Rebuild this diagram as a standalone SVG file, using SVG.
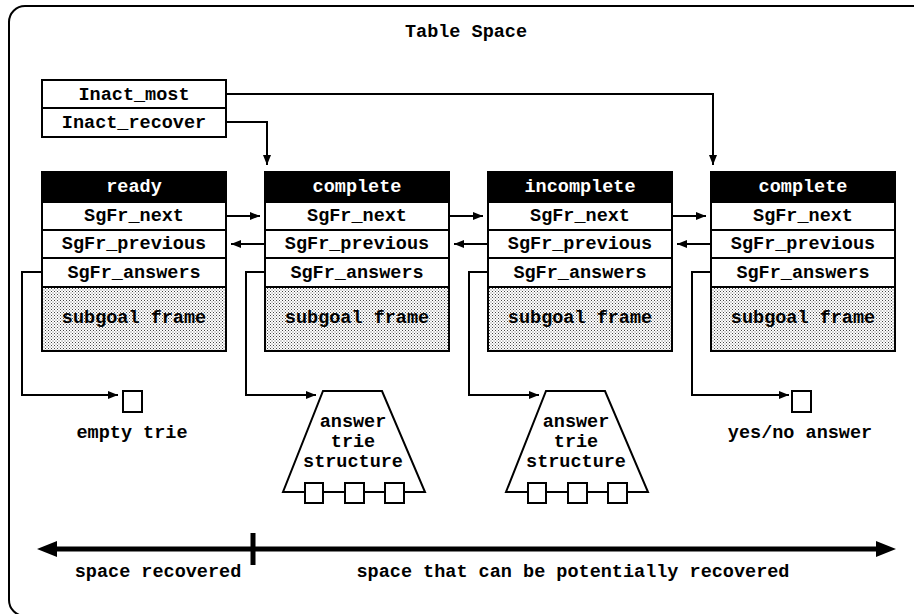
<svg xmlns="http://www.w3.org/2000/svg" width="914" height="614" viewBox="0 0 914 614">
<defs>
<pattern id="dots" width="3" height="3" patternUnits="userSpaceOnUse">
<rect width="3" height="3" fill="#ffffff"/>
<rect x="0" y="0" width="1" height="1" fill="#444"/>
<rect x="1.5" y="1.5" width="1" height="1" fill="#666"/>
</pattern>
<marker id="ah" viewBox="0 0 10 8" refX="10" refY="4" markerWidth="10" markerHeight="8" markerUnits="userSpaceOnUse" orient="auto">
<path d="M0,0 L10,4 L0,8 z" fill="#000"/>
</marker>
</defs>
<style>
text{font-family:"Liberation Mono","Courier New",monospace;font-weight:bold;font-size:18.5px;fill:#000;text-anchor:middle}
.hd{fill:#000;stroke:#000;stroke-width:2}
.hdt{fill:#fff}
.cell{fill:#fff;stroke:#000;stroke-width:2}
.sf{fill:url(#dots);stroke:#000;stroke-width:2}
.ln{fill:none;stroke:#000;stroke-width:2}
.arr{fill:none;stroke:#000;stroke-width:2;marker-end:url(#ah)}
.sq{fill:#fff;stroke:#000;stroke-width:2}
</style>
<rect width="914" height="614" fill="#fff"/>
<path class="ln" d="M925,6 H25 A16,16 0 0 0 9,22 V600 A16,16 0 0 0 25,616 H925"/>
<text x="466" y="37">Table Space</text>

<g id="inact">
<rect class="cell" x="42" y="80" width="184" height="28"/>
<rect class="cell" x="42" y="108" width="184" height="29"/>
<text x="134" y="100">Inact_most</text>
<text x="134" y="128">Inact_recover</text>
</g>

<g id="sf1">
<rect class="hd" x="42" y="172" width="184" height="30"/>
<text class="hdt" x="134" y="192">ready</text>
<rect class="cell" x="42" y="202" width="184" height="28"/>
<rect class="cell" x="42" y="230" width="184" height="28"/>
<rect class="cell" x="42" y="258" width="184" height="29"/>
<rect class="sf" x="42" y="287" width="184" height="64"/>
<text x="134" y="221">SgFr_next</text>
<text x="134" y="249">SgFr_previous</text>
<text x="134" y="278">SgFr_answers</text>
<text x="134" y="323">subgoal frame</text>
</g>

<g id="sf2">
<rect class="hd" x="265" y="172" width="184" height="30"/>
<text class="hdt" x="357" y="192">complete</text>
<rect class="cell" x="265" y="202" width="184" height="28"/>
<rect class="cell" x="265" y="230" width="184" height="28"/>
<rect class="cell" x="265" y="258" width="184" height="29"/>
<rect class="sf" x="265" y="287" width="184" height="64"/>
<text x="357" y="221">SgFr_next</text>
<text x="357" y="249">SgFr_previous</text>
<text x="357" y="278">SgFr_answers</text>
<text x="357" y="323">subgoal frame</text>
</g>

<g id="sf3">
<rect class="hd" x="488" y="172" width="184" height="30"/>
<text class="hdt" x="580" y="192">incomplete</text>
<rect class="cell" x="488" y="202" width="184" height="28"/>
<rect class="cell" x="488" y="230" width="184" height="28"/>
<rect class="cell" x="488" y="258" width="184" height="29"/>
<rect class="sf" x="488" y="287" width="184" height="64"/>
<text x="580" y="221">SgFr_next</text>
<text x="580" y="249">SgFr_previous</text>
<text x="580" y="278">SgFr_answers</text>
<text x="580" y="323">subgoal frame</text>
</g>

<g id="sf4">
<rect class="hd" x="711" y="172" width="184" height="30"/>
<text class="hdt" x="803" y="192">complete</text>
<rect class="cell" x="711" y="202" width="184" height="28"/>
<rect class="cell" x="711" y="230" width="184" height="28"/>
<rect class="cell" x="711" y="258" width="184" height="29"/>
<rect class="sf" x="711" y="287" width="184" height="64"/>
<text x="803" y="221">SgFr_next</text>
<text x="803" y="249">SgFr_previous</text>
<text x="803" y="278">SgFr_answers</text>
<text x="803" y="323">subgoal frame</text>
</g>

<g id="empty">
<rect class="sq" x="123" y="391" width="19" height="21"/>
<text x="132" y="438">empty trie</text>
</g>

<g id="trie1">
<polygon class="ln" points="323,391 382,391 425,492 283,492"/>
<rect class="sq" x="305" y="483" width="18" height="20"/>
<rect class="sq" x="345" y="483" width="19" height="20"/>
<rect class="sq" x="385" y="483" width="19" height="20"/>
<text x="353" y="427">answer</text>
<text x="353" y="447">trie</text>
<text x="353" y="467">structure</text>
</g>

<g id="trie2">
<polygon class="ln" points="546,391 605,391 648,492 506,492"/>
<rect class="sq" x="528" y="483" width="18" height="20"/>
<rect class="sq" x="568" y="483" width="19" height="20"/>
<rect class="sq" x="608" y="483" width="19" height="20"/>
<text x="576" y="427">answer</text>
<text x="576" y="447">trie</text>
<text x="576" y="467">structure</text>
</g>

<g id="yesno">
<rect class="sq" x="792" y="391" width="19" height="21"/>
<text x="800" y="438">yes/no answer</text>
</g>

<g id="connectors">
<path class="arr" d="M226,94 H713 V165"/>
<path class="arr" d="M226,122 H267 V165"/>
<path class="arr" d="M226,216 H260"/>
<path class="arr" d="M449,216 H483"/>
<path class="arr" d="M672,216 H706"/>
<path class="arr" d="M265,244 H231"/>
<path class="arr" d="M488,244 H454"/>
<path class="arr" d="M711,244 H677"/>
<path class="arr" d="M42,272 H22 V395 H118"/>
<path class="arr" d="M265,272 H246 V395 H316"/>
<path class="arr" d="M488,272 H469 V395 H539"/>
<path class="arr" d="M711,272 H692 V395 H789"/>
</g>

<g id="scale">
<line x1="54" y1="549" x2="879" y2="549" stroke="#000" stroke-width="5"/>
<polygon points="37,549 57,541 57,557" fill="#000"/>
<polygon points="896,549 876,541 876,557" fill="#000"/>
<line x1="253" y1="533" x2="253" y2="565" stroke="#000" stroke-width="5"/>
<text x="158" y="577">space recovered</text>
<text x="573" y="577">space that can be potentially recovered</text>
</g>
</svg>
